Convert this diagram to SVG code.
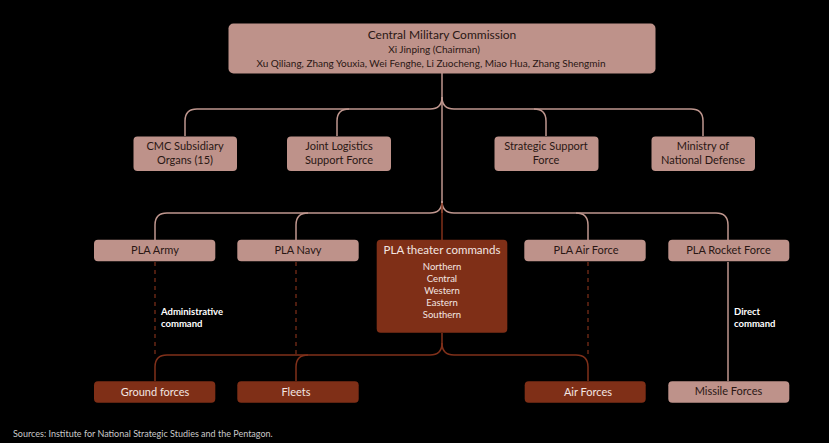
<svg xmlns="http://www.w3.org/2000/svg" width="829" height="443" viewBox="0 0 829 443">
<style>
.bg{fill:#000}
.pk{fill:#be928a}
.rd{fill:#7f2f17}
.t{font-family:Lato,"Liberation Sans",sans-serif;text-anchor:middle}
.dk{fill:#2a1714}
.wt{fill:#f3e6e2}
.lp{fill:none;stroke:#bf968e;stroke-width:1.5}
.lr{fill:none;stroke:#80301a;stroke-width:1.5}
.ld{fill:none;stroke:#80301a;stroke-width:1.2;stroke-dasharray:4 4}
.note{font-family:Lato,"Liberation Sans",sans-serif;font-size:9.5px;fill:#fff;font-weight:bold}
</style>
<rect class="bg" x="0" y="0" width="829" height="443"/>
<g id="connectors">
<path class="lp" d="M442,73 L442,213"/>
<path class="lp" d="M442,97 Q442,109 430,109 L197,109 Q185,109 185,121 L185,136"/>
<path class="lp" d="M349,109 Q337,109 337,121 L337,136"/>
<path class="lp" d="M442,97 Q442,109 454,109 L691,109 Q703,109 703,121 L703,136"/>
<path class="lp" d="M534,109 Q546,109 546,121 L546,136"/>
<path class="lp" d="M442,201 Q442,213 430,213 L167,213 Q155,213 155,225 L155,240"/>
<path class="lp" d="M308,213 Q296,213 296,225 L296,240"/>
<path class="lp" d="M442,201 Q442,213 454,213 L716,213 Q728,213 728,225 L728,240"/>
<path class="lp" d="M576,213 Q588,213 588,225 L588,240"/>
<path class="lr" d="M442,203 L442,240"/>
<path class="lr" d="M442,333 L442,343 Q442,355 430,355 L167,355 Q155,355 155,367 L155,381"/>
<path class="lr" d="M308,355 Q296,355 296,367 L296,381"/>
<path class="lr" d="M442,343 Q442,355 454,355 L576,355 Q588,355 588,367 L588,381"/>
<path class="ld" d="M155,262 L155,355"/>
<path class="ld" d="M296,262 L296,355"/>
<path class="ld" d="M588,262 L588,355"/>
<path class="lp" d="M728,262 L728,381"/>
</g>
<g id="cmc">
<rect class="pk" x="228.5" y="23.5" width="427" height="50" rx="5"/>
<text class="t dk" x="442" y="39" font-size="12">Central Military Commission</text>
<text class="t dk" x="434" y="53" font-size="10">Xi Jinping (Chairman)</text>
<text class="t dk" x="431" y="67" font-size="10">Xu Qiliang, Zhang Youxia, Wei Fenghe, Li Zuocheng, Miao Hua, Zhang Shengmin</text>
</g>
<g id="cmc-subsidiary">
<rect class="pk" x="133.5" y="136.5" width="103.5" height="34.5" rx="4"/>
<text class="t dk" x="185" y="150" font-size="11">CMC Subsidiary</text>
<text class="t dk" x="185" y="164" font-size="11">Organs (15)</text>
</g>
<g id="joint-logistics">
<rect class="pk" x="287" y="136.5" width="104" height="34.5" rx="4"/>
<text class="t dk" x="339" y="150" font-size="11">Joint Logistics</text>
<text class="t dk" x="339" y="164" font-size="11">Support Force</text>
</g>
<g id="strategic-support">
<rect class="pk" x="494.5" y="136.5" width="104" height="34.5" rx="4"/>
<text class="t dk" x="546" y="150" font-size="11">Strategic Support</text>
<text class="t dk" x="546" y="164" font-size="11">Force</text>
</g>
<g id="ministry">
<rect class="pk" x="651.5" y="136.5" width="103.5" height="34.5" rx="4"/>
<text class="t dk" x="703" y="150" font-size="11">Ministry of</text>
<text class="t dk" x="703" y="164" font-size="11">National Defense</text>
</g>
<g id="pla-army">
<rect class="pk" x="94" y="239.7" width="121.3" height="21.6" rx="4"/>
<text class="t dk" x="155" y="253.5" font-size="11">PLA Army</text>
</g>
<g id="pla-navy">
<rect class="pk" x="237.3" y="239.7" width="121.4" height="21.6" rx="4"/>
<text class="t dk" x="298" y="253.5" font-size="11">PLA Navy</text>
</g>
<g id="theater">
<rect class="rd" x="376.7" y="239.7" width="130.6" height="93" rx="4"/>
<text class="t wt" x="442" y="253.5" font-size="11.5">PLA theater commands</text>
<text class="t wt" x="442" y="270" font-size="9.5">Northern</text>
<text class="t wt" x="442" y="282" font-size="9.5">Central</text>
<text class="t wt" x="442" y="294" font-size="9.5">Western</text>
<text class="t wt" x="442" y="306" font-size="9.5">Eastern</text>
<text class="t wt" x="442" y="318" font-size="9.5">Southern</text>
</g>
<g id="pla-air-force">
<rect class="pk" x="524.3" y="239.7" width="121.4" height="21.6" rx="4"/>
<text class="t dk" x="586" y="253.5" font-size="11">PLA Air Force</text>
</g>
<g id="pla-rocket-force">
<rect class="pk" x="668.3" y="239.7" width="121" height="21.6" rx="4"/>
<text class="t dk" x="728.5" y="253.5" font-size="11">PLA Rocket Force</text>
</g>
<g id="ground-forces">
<rect class="rd" x="94" y="381.3" width="121.3" height="21.4" rx="4"/>
<text class="t wt" x="155" y="395.5" font-size="11">Ground forces</text>
</g>
<g id="fleets">
<rect class="rd" x="237.3" y="381.3" width="121.4" height="21.4" rx="4"/>
<text class="t wt" x="296" y="395.5" font-size="11">Fleets</text>
</g>
<g id="air-forces">
<rect class="rd" x="524.7" y="381.3" width="121" height="21.4" rx="4"/>
<text class="t wt" x="588" y="395.5" font-size="11">Air Forces</text>
</g>
<g id="missile-forces">
<rect class="pk" x="668.3" y="381.3" width="121" height="21.4" rx="4"/>
<text class="t dk" x="728.5" y="395" font-size="11">Missile Forces</text>
</g>
<g id="labels">
<text class="note" x="161" y="315">Administrative</text>
<text class="note" x="161" y="327">command</text>
<text class="note" x="734" y="315">Direct</text>
<text class="note" x="734" y="327">command</text>
<text x="13" y="437" font-family="Lato,'Liberation Sans',sans-serif" font-size="9" fill="#c9c9c9">Sources: Institute for National Strategic Studies and the Pentagon.</text>
</g>
</svg>
